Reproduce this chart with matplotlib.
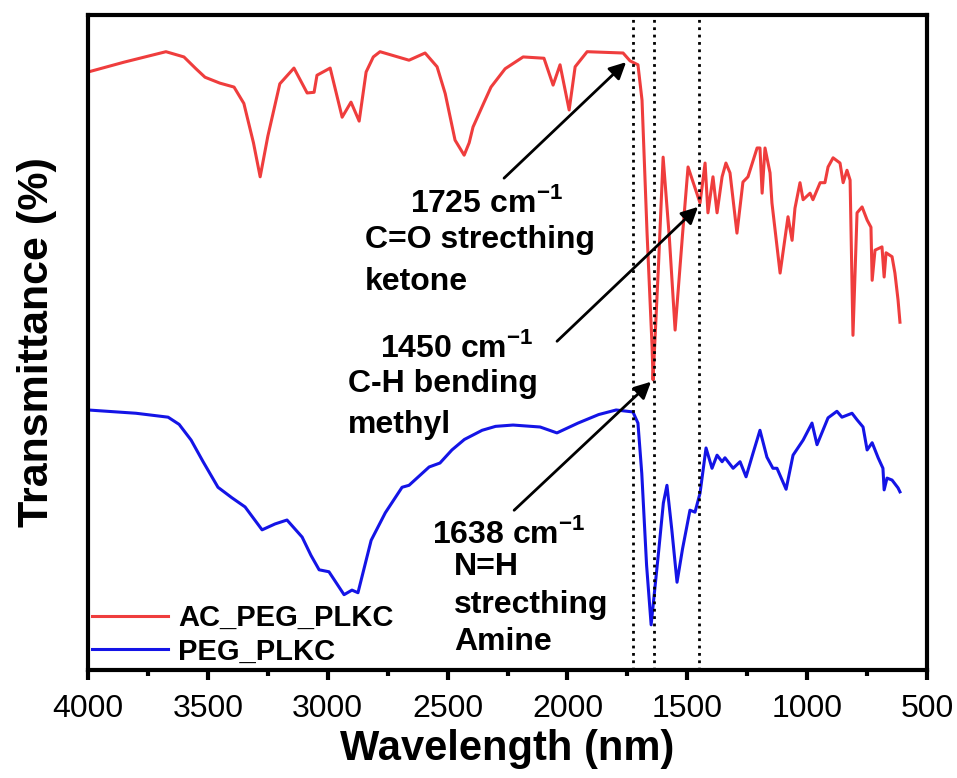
import matplotlib
matplotlib.use("Agg")
import matplotlib.pyplot as plt
from matplotlib.ticker import MultipleLocator

plt.rcParams['font.family'] = ['Liberation Sans', 'DejaVu Sans']
plt.rcParams['mathtext.fontset'] = 'custom'
plt.rcParams['mathtext.rm'] = 'Liberation Sans'
plt.rcParams['mathtext.bf'] = 'Liberation Sans:bold'

# AC_PEG_PLKC spectrum (wavenumber, transmittance)
red_x = [4000, 3850, 3675, 3600, 3550, 3512, 3450, 3391, 3350, 3310, 3282, 3250,
         3200, 3141, 3086, 3057, 3045, 2990, 2940, 2903, 2869, 2840, 2810, 2782,
         2661, 2594, 2544, 2510, 2469, 2431, 2410, 2394, 2350, 2319, 2260, 2185,
         2098, 2060, 2031, 1993, 1968, 1918, 1768, 1739, 1706, 1689, 1668, 1647,
         1643, 1620, 1601, 1575, 1551, 1520, 1497, 1447, 1426, 1414, 1393, 1376,
         1355, 1339, 1322, 1293, 1268, 1247, 1209, 1197, 1188, 1176, 1155, 1147,
         1113, 1080, 1063, 1051, 1030, 1017, 988, 976, 946, 926, 913, 892, 863,
         850, 834, 821, 809, 792, 771, 750, 734, 729, 717, 688, 679, 671, 646,
         634, 621, 613]
red_y = [91.3, 92.8, 94.4, 93.6, 91.8, 90.5, 89.6, 89.0, 86.5, 80.5, 75.3, 81.5,
         89.5, 91.9, 88.1, 88.2, 90.8, 91.9, 84.4, 86.7, 83.8, 91.3, 93.6, 94.4,
         93.1, 94.2, 92.1, 88.0, 80.9, 78.6, 80.5, 82.9, 86.5, 89.0, 91.8, 93.6,
         93.4, 89.3, 92.4, 85.5, 92.1, 94.4, 94.2, 93.0, 92.4, 87.0, 66.7, 49.3,
         44.3, 62.0, 78.3, 66.0, 51.9, 66.5, 76.8, 71.3, 77.4, 69.8, 75.3, 69.8,
         75.3, 77.4, 75.9, 66.7, 74.5, 75.3, 79.7, 79.7, 72.8, 79.7, 75.9, 71.3,
         60.6, 69.2, 65.6, 70.5, 74.4, 71.8, 72.8, 71.8, 74.4, 74.4, 76.8, 78.2,
         77.4, 74.4, 76.3, 74.8, 51.1, 69.8, 70.7, 68.7, 67.6, 59.5, 64.1, 64.6,
         60.0, 63.7, 63.1, 60.6, 56.5, 53.1]

# PEG_PLKC spectrum
blue_x = [4000, 3800, 3666, 3620, 3570, 3520, 3458, 3400, 3345, 3274, 3220, 3170,
          3107, 3070, 3036, 2995, 2932, 2899, 2874, 2819, 2760, 2690, 2661, 2577,
          2532, 2482, 2430, 2356, 2300, 2227, 2114, 2044, 1956, 1870, 1797, 1727,
          1706, 1690, 1670, 1651, 1620, 1600, 1585, 1565, 1543, 1520, 1489, 1468,
          1447, 1422, 1397, 1376, 1355, 1343, 1309, 1280, 1255, 1226, 1197, 1168,
          1143, 1126, 1088, 1059, 1017, 980, 959, 913, 876, 855, 813, 792, 767,
          750, 729, 704, 684, 679, 667, 646, 621, 613]
blue_y = [39.7, 39.2, 38.6, 37.5, 35.1, 31.8, 27.9, 26.3, 24.9, 21.4, 22.3, 22.9,
          20.3, 17.5, 15.3, 15.0, 11.5, 12.2, 11.8, 19.8, 24.0, 27.9, 28.2, 31.0,
          31.6, 33.6, 35.2, 36.6, 37.2, 37.4, 37.1, 36.2, 37.7, 39.0, 39.7, 39.4,
          37.7, 30.0, 16.0, 6.9, 18.0, 25.5, 28.2, 21.5, 13.4, 18.5, 24.4, 24.1,
          27.0, 33.9, 30.8, 32.8, 31.8, 32.4, 30.8, 31.8, 29.5, 33.1, 36.6, 32.5,
          30.8, 30.8, 27.6, 32.8, 35.1, 37.7, 34.4, 38.5, 39.5, 38.6, 39.2, 38.2,
          37.1, 33.6, 34.7, 32.4, 30.8, 27.5, 29.3, 29.0, 27.8, 27.2]

marker_lines = [1725, 1638, 1450]

fig = plt.figure(figsize=(9.57, 7.78), dpi=100)
ax = fig.add_axes([0.092, 0.1388, 0.8767, 0.8419])

ax.plot(red_x, red_y, color='#ef3d3d', lw=2.2, label='AC_PEG_PLKC')
ax.plot(blue_x, blue_y, color='#1414e6', lw=2.2, label='PEG_PLKC')

for wn in marker_lines:
    ax.axvline(wn, color='black', ls=':', lw=2)

# annotations
bold = dict(fontsize=23, fontweight='bold')
ax.text(2657, 69.9, r'1725 cm$^{\mathbf{-1}}$', **bold)
ax.text(2844, 64.4, 'C=O strecthing', **bold)
ax.text(2844, 58.0, 'ketone', **bold)
ax.text(2782, 47.8, r'1450 cm$^{\mathbf{-1}}$', **bold)
ax.text(2915, 42.4, 'C-H bending', **bold)
ax.text(2915, 36.2, 'methyl', **bold)
ax.text(2565, 19.4, r'1638 cm$^{\mathbf{-1}}$', **bold)
ax.text(2473, 14.5, 'N=H', **bold)
ax.text(2473, 8.7, 'strecthing', **bold)
ax.text(2473, 3.1, 'Amine', **bold)

arr = dict(arrowstyle='-|>', color='black', lw=2, mutation_scale=25)
ax.annotate('', xy=(1747, 93.1), xytext=(2273, 74.8), arrowprops=arr)
ax.annotate('', xy=(1447, 71.0), xytext=(2052, 49.9), arrowprops=arr)
ax.annotate('', xy=(1643, 44.3), xytext=(2231, 24.1), arrowprops=arr)

ax.set_xlim(4000, 500)
ax.set_ylim(0, 100)
ax.xaxis.set_major_locator(MultipleLocator(500))
ax.xaxis.set_minor_locator(MultipleLocator(250))
ax.set_yticks([])
ax.tick_params(axis='x', which='major', direction='out', length=7, width=3,
               labelsize=23, pad=10)
ax.tick_params(axis='x', which='minor', direction='out', length=4.5, width=3)
for s in ax.spines.values():
    s.set_linewidth(3)

ax.set_xlabel('Wavelength (nm)', fontsize=30, fontweight='bold', labelpad=4)
ax.set_ylabel('Transmittance (%)', fontsize=31, fontweight='bold', labelpad=22)

ax.legend(loc='lower left', frameon=False, prop=dict(size=21, weight='bold'),
          handlelength=2.6, handletextpad=0.35, labelspacing=0.2,
          borderaxespad=0.1, borderpad=0.05)

fig.savefig('out.png', dpi=100)
